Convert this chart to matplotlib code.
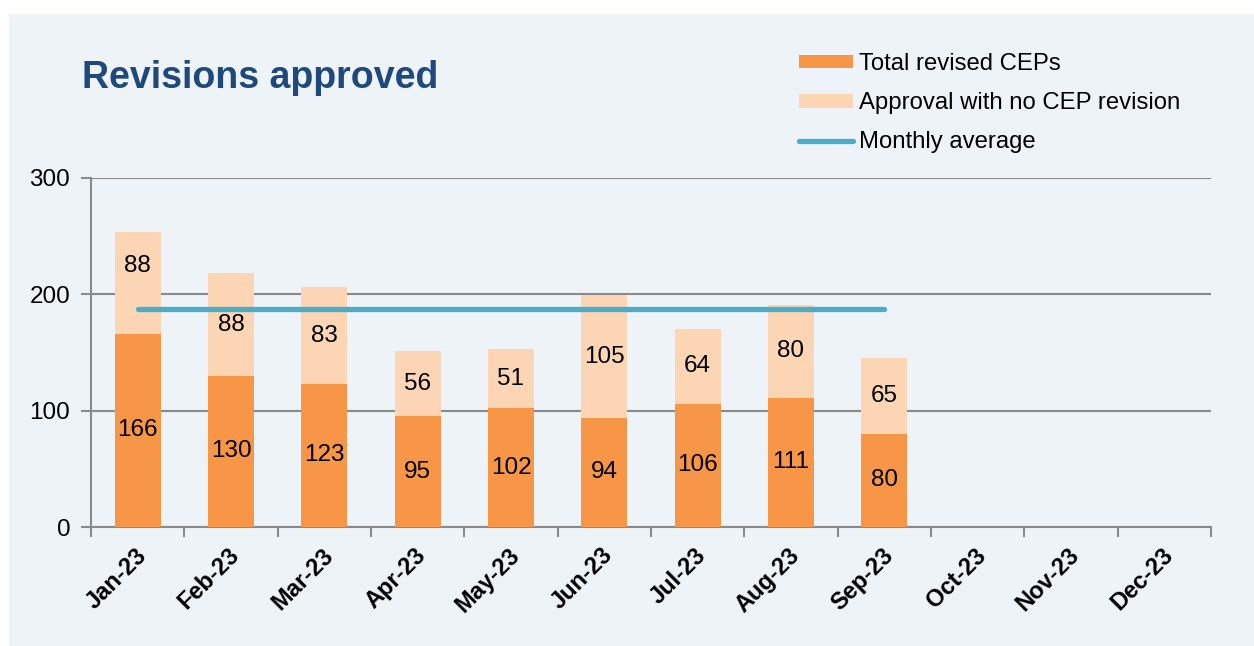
import matplotlib
matplotlib.use("Agg")
import matplotlib.pyplot as plt
import matplotlib.transforms as mtrans
from matplotlib.patches import Rectangle
import numpy as np

# ---- data ----
months = ["Jan-23", "Feb-23", "Mar-23", "Apr-23", "May-23", "Jun-23",
          "Jul-23", "Aug-23", "Sep-23", "Oct-23", "Nov-23", "Dec-23"]
total_revised = [166, 130, 123, 95, 102, 94, 106, 111, 80]
approval_no_revision = [88, 88, 83, 56, 51, 105, 64, 80, 65]
monthly_average = [187.4, 187.4, 187.4, 187.4, 187.4, 187.4, 187.4, 187.4, 187.4]
y_ticks = [0, 100, 200, 300]

# ---- style ----
ORANGE = "#F79646"
LIGHT = "#FCD5B5"
LINE = "#4BACC6"
PANEL = "#EEF3F8"
GRID = "#8A8A8A"
TITLE = "#1F497D"
W, H = 1254, 646
plt.rcParams["font.family"] = ["Liberation Sans", "DejaVu Sans"]

fig = plt.figure(figsize=(W / 100, H / 100), dpi=100, facecolor="white")
fig.patches.append(Rectangle((9 / W, 0), 1 - 9 / W, 1 - 14 / H, transform=fig.transFigure,
                             facecolor=PANEL, edgecolor="none", zorder=-10))

ax = fig.add_axes([91 / W, 119 / H, 1120 / W, 349 / H])
ax.set_facecolor("none")

n = len(total_revised)
x = np.arange(n)
bw = 0.49
b1 = ax.bar(x, total_revised, width=bw, color=ORANGE, zorder=3, label="Total revised CEPs")
b2 = ax.bar(x, approval_no_revision, width=bw, bottom=total_revised, color=LIGHT, zorder=3,
            label="Approval with no CEP revision")
ln, = ax.plot(x[:len(monthly_average)], monthly_average, color=LINE, lw=3.8, zorder=4,
              solid_capstyle="round", label="Monthly average")

fs = 17.5
for i in range(n):
    ax.text(x[i], total_revised[i] / 2, str(total_revised[i]), ha="center", va="center",
            fontsize=fs, color="black", zorder=5)
    yc = total_revised[i] + approval_no_revision[i] / 2
    if i == 0:
        yc += 14
    ax.text(x[i], yc, str(approval_no_revision[i]), ha="center", va="center",
            fontsize=fs, color="black", zorder=5)

ax.set_xlim(-0.5, len(months) - 0.5)
ax.set_ylim(0, 300)
ax.set_yticks(y_ticks)
ax.set_yticklabels([str(v) for v in y_ticks], fontsize=fs)
ax.yaxis.grid(True, color=GRID, lw=1.5, zorder=0)
ax.set_axisbelow(True)

ax.set_xticks(np.arange(len(months)))
ax.set_xticklabels(months, rotation=45, ha="right", va="top", rotation_mode="anchor",
                   fontsize=17, fontweight="bold")
ax.set_xticks(np.arange(len(months) + 1) - 0.5, minor=True)
ax.tick_params(axis="x", which="major", length=0, pad=12)
ax.tick_params(axis="x", which="minor", length=7, width=1.5, color=GRID, direction="out")
ax.tick_params(axis="y", length=7, width=1.5, color=GRID, pad=8)
offset = mtrans.ScaledTranslation(-3 / 100, 0, fig.dpi_scale_trans)
for lbl in ax.get_xticklabels():
    lbl.set_transform(lbl.get_transform() + offset)

for s in ["top", "right"]:
    ax.spines[s].set_visible(False)
for s in ["left", "bottom"]:
    ax.spines[s].set_color(GRID)
    ax.spines[s].set_linewidth(1.5)

fig.text(82 / W, 1 - 88 / H, "Revisions approved", fontsize=27, fontweight="bold",
         color=TITLE, ha="left", va="baseline")

leg = fig.legend([b1, b2, ln], ["Total revised CEPs", "Approval with no CEP revision", "Monthly average"],
                 loc="upper left", bbox_to_anchor=(799 / W, 1 - 53 / H),
                 frameon=False, fontsize=17.2, handlelength=2.25, handleheight=0.5,
                 handletextpad=0.25, labelspacing=0.72, borderpad=0, borderaxespad=0)

fig.savefig("out.png", dpi=100, facecolor="white")
